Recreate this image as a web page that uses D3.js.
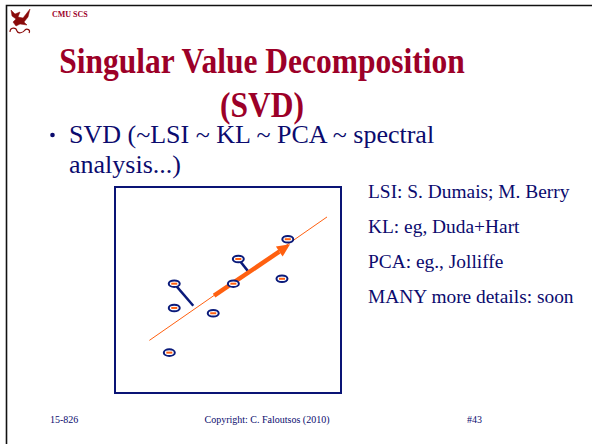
<!DOCTYPE html>
<html>
<head>
<meta charset="utf-8">
<script src="https://cdnjs.cloudflare.com/ajax/libs/d3/7.8.5/d3.min.js"></script>
<style>
  body { margin: 0; background: #fff; }
  svg { display: block; }
</style>
</head>
<body>
<script>
// scatter points in the box (data units 0..100)
var pointX = [76.7, 54.6, 26.0, 52.4, 74.1, 26.0, 43.4, 23.8];
var pointY = [74.9, 65.2, 53.1, 53.1, 55.5, 41.2, 38.6, 19.3];
// principal axis line and first component arrow
var axisLine = [[14.9, 25.3], [94.2, 85.8]];
var arrowLine = [[43.8, 47.2], [77.7, 72.4]];
// projection segments: point index -> foot on the axis
var projFrom = [2, 1];
var projTo = [[34.5, 42.3], [59.1, 59.0]];

var titleLines = ['Singular Value Decomposition', '(SVD)'];
var bulletLines = ['SVD (~LSI ~ KL ~ PCA ~ spectral', 'analysis...)'];
var refs = ['LSI: S. Dumais; M. Berry', 'KL: eg, Duda+Hart', 'PCA: eg., Jolliffe', 'MANY more details: soon'];
var footer = ['15-826', 'Copyright: C. Faloutsos (2010)', '#43'];

var W = 592, H = 444;
var navy = '#0b0b6e', red = '#9c0028', orange = '#ff6010', dot = '#0a1a7a';
var serif = '"Liberation Serif", "Times New Roman", serif';

var svg = d3.select('body').append('svg').attr('width', W).attr('height', H);

// slide frame
svg.append('path').attr('d', 'M6.5,444 V5.5 H592')
   .attr('fill', 'none').attr('stroke', '#111').attr('stroke-width', 1.6);

// rough logo
var logo = svg.append('g').attr('fill', '#8a0a0a').attr('stroke', '#8a0a0a');
logo.append('path').attr('stroke-width', 0.5)
    .attr('d', 'M11,10 L15,14 L20,12 L18,17 L23,18 L30,9 L28,17 L24,22 L27,25 L20,24 L16,26 L13,22 L16,19 L12,16 Z');
logo.append('path').attr('fill', 'none').attr('stroke-width', 1.2)
    .attr('d', 'M10,32 C10,27 16,27 17,31 C18,34 23,33 25,30 C27,28 31,30 29,33');

svg.append('text').attr('x', 52).attr('y', 17)
   .style('font-family', serif).style('font-weight', 'bold')
   .style('font-size', '8px').style('fill', red).text('CMU SCS');

// title (slightly condensed, like the slide)
svg.append('g').attr('transform', 'translate(262,0) scale(0.9,1)')
   .selectAll('text').data(titleLines).join('text')
   .attr('x', 0).attr('y', function (d, i) { return 73 + i * 44; })
   .attr('text-anchor', 'middle')
   .style('font-family', serif).style('font-weight', 'bold')
   .style('font-size', '35px').style('fill', red)
   .text(function (d) { return d; });

// bullet
svg.append('circle').attr('cx', 52.5).attr('cy', 135).attr('r', 2.3).attr('fill', navy);
svg.append('g').selectAll('text').data(bulletLines).join('text')
   .attr('x', 69).attr('y', function (d, i) { return 143 + i * 30; })
   .style('font-family', serif).style('font-size', '26px').style('fill', navy)
   .text(function (d) { return d; });

// references
svg.append('g').selectAll('text').data(refs).join('text')
   .attr('x', 368).attr('y', function (d, i) { return 198 + i * 35; })
   .style('font-family', serif).style('font-size', '19.4px').style('fill', navy)
   .text(function (d) { return d; });

// footer
var fx = [50, 267, 467], fa = ['start', 'middle', 'start'];
svg.append('g').selectAll('text').data(footer).join('text')
   .attr('x', function (d, i) { return fx[i]; }).attr('y', 423)
   .attr('text-anchor', function (d, i) { return fa[i]; })
   .style('font-family', serif).style('font-size', '10px').style('fill', navy)
   .text(function (d) { return d; });

// plot box
var box = {x0: 114, y0: 186, x1: 342, y1: 394};
svg.append('rect').attr('x', box.x0 + 1).attr('y', box.y0 + 1)
   .attr('width', box.x1 - box.x0 - 2).attr('height', box.y1 - box.y0 - 2)
   .attr('fill', '#fff').attr('stroke', '#0a1475').attr('stroke-width', 2);

var x = d3.scaleLinear().domain([0, 100]).range([116, 340]);
var y = d3.scaleLinear().domain([0, 100]).range([392, 188]);
var line = d3.line().x(function (d) { return x(d[0]); }).y(function (d) { return y(d[1]); });

svg.append('path').attr('d', line(axisLine))
   .attr('stroke', orange).attr('stroke-width', 1).attr('fill', 'none');

svg.append('g').selectAll('path').data(projFrom).join('path')
   .attr('d', function (k, i) { return line([[pointX[k], pointY[k]], projTo[i]]); })
   .attr('stroke', dot).attr('stroke-width', 2.5).attr('fill', 'none');

// arrow
var a0 = [x(arrowLine[0][0]), y(arrowLine[0][1])];
var a1 = [x(arrowLine[1][0]), y(arrowLine[1][1])];
var ang = Math.atan2(a1[1] - a0[1], a1[0] - a0[0]);
var hl = 13, hw = 6;
var bx = a1[0] - hl * Math.cos(ang), by = a1[1] - hl * Math.sin(ang);
svg.append('line').attr('x1', a0[0]).attr('y1', a0[1]).attr('x2', bx).attr('y2', by)
   .attr('stroke', orange).attr('stroke-width', 4.5);
svg.append('path')
   .attr('d', 'M' + a1[0] + ',' + a1[1] +
         'L' + (bx - hw * Math.sin(ang)) + ',' + (by + hw * Math.cos(ang)) +
         'L' + (bx + hw * Math.sin(ang)) + ',' + (by - hw * Math.cos(ang)) + 'Z')
   .attr('fill', orange);

// points
var pts = svg.append('g').selectAll('g').data(d3.range(pointX.length)).join('g')
   .attr('transform', function (i) { return 'translate(' + x(pointX[i]) + ',' + y(pointY[i]) + ')'; });
pts.append('ellipse').attr('rx', 5.5).attr('ry', 3.3)
   .attr('fill', '#fff').attr('stroke', dot).attr('stroke-width', 2);
pts.append('line').attr('x1', -3).attr('x2', 3)
   .attr('stroke', orange).attr('stroke-width', 2);
</script>
</body>
</html>
